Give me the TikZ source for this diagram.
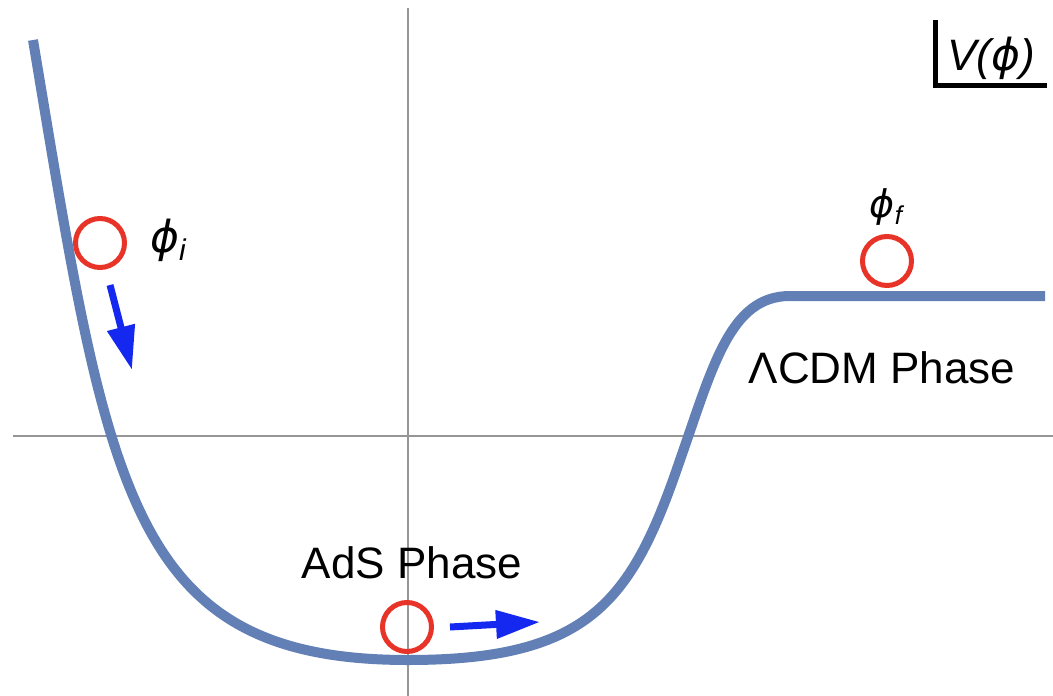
\documentclass[tikz,border=0pt]{standalone}
\usepackage{fontspec}
\setmainfont{Liberation Sans}
\newfontfamily\phifont{DejaVu Sans}
\usetikzlibrary{arrows.meta}
\definecolor{curveblue}{RGB}{99,128,182}
\definecolor{ballred}{RGB}{232,52,40}
\definecolor{axisgray}{RGB}{150,150,150}
\definecolor{rollblue}{RGB}{20,40,240}
% field symbol and field with a lowered index
\newcommand{\fieldsym}{{\phifont\itshape ϕ}}
\newcommand{\fieldsub}[1]{\fieldsym\raisebox{-0.2em}{\fontsize{0.68em}{1em}\selectfont\itshape #1}}

\begin{document}
\begin{tikzpicture}[x=1pt,y=-1pt,
  ball/.style={circle,draw=ballred,line width=5pt,minimum size=49pt,inner sep=0pt},
  roll/.style={rollblue,line width=7pt,-{Triangle[length=44pt,width=27pt]}},
  lbl/.style={font=\fontsize{44}{53}\selectfont,inner sep=0pt}]
\useasboundingbox (0,0) rectangle (1053,696);
% axes
\draw[axisgray,line width=1.5pt] (408,8) -- (408,696);
\draw[axisgray,line width=1.5pt] (13,436) -- (1053,436);
% potential
\draw[curveblue,line width=10pt] (33,40) .. controls (108,490) and (128,660) .. (408,660)
  .. controls (590,660) and (632,601) .. (680,460)
  .. controls (713,366) and (730,296) .. (790,296) -- (1045,296);
% axis label
\draw[line width=5pt] (935,20) -- (935,85) -- (1047,85);
\node[lbl,anchor=base] (vlabel) at (991,70) {\itshape V(\fieldsym)};
% field positions
\node[ball] (ini) at (100,243) {};
\node[ball] (ads) at (407,627) {};
\node[ball] (fin) at (887,261) {};
\node[lbl,anchor=base west] (inilabel) at (150,252) {\fieldsub{i}};
\node[lbl,font=\fontsize{38}{46}\selectfont,anchor=base] (finlabel) at (886,217) {\fieldsub{f}};
\node[lbl,anchor=base] (adslabel) at (412,578) {AdS Phase};
\node[lbl,anchor=base] (lcdmlabel) at (882,383) {ΛCDM Phase};
% rolling directions
\draw[roll] (110,285) -- (132,370);
\draw[roll] (450,627) -- (540,622);
\end{tikzpicture}
\end{document}
